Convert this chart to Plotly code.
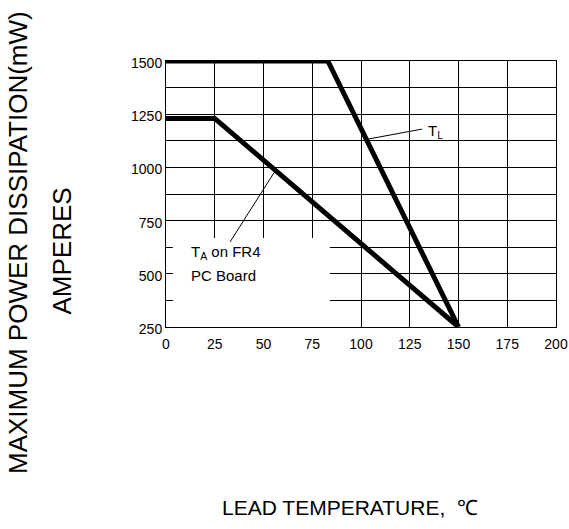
import plotly.graph_objects as go

# ---- data ----
tl_temp = [0, 83, 150]
tl_power = [1500, 1500, 250]
ta_temp = [0, 25, 150]
ta_power = [1230, 1230, 250]

x_ticks = [0, 25, 50, 75, 100, 125, 150, 175, 200]
y_ticks = [250, 500, 750, 1000, 1250, 1500]

# leader lines for the curve labels
tl_leader_x = [103.6, 131.3]
tl_leader_y = [1133, 1180]
ta_leader_x = [55.4, 32.8]
ta_leader_y = [975, 649]

# blank label box inside grid
box_x = [3.5, 84]
box_y = [250, 668]

FONT = "Liberation Sans, Arial, sans-serif"

fig = go.Figure()
fig.add_trace(go.Scatter(x=tl_temp, y=tl_power, mode="lines",
                         line=dict(color="black", width=5), hoverinfo="skip"))
fig.add_trace(go.Scatter(x=ta_temp, y=ta_power, mode="lines",
                         line=dict(color="black", width=5), hoverinfo="skip"))
fig.add_trace(go.Scatter(x=tl_leader_x, y=tl_leader_y, mode="lines",
                         line=dict(color="black", width=1), hoverinfo="skip"))
fig.add_trace(go.Scatter(x=ta_leader_x, y=ta_leader_y, mode="lines",
                         line=dict(color="black", width=1), hoverinfo="skip"))

fig.add_shape(type="rect", xref="x", yref="y", x0=box_x[0], x1=box_x[1],
              y0=box_y[0], y1=box_y[1], fillcolor="white",
              line=dict(width=0), layer="between")

fig.add_annotation(x=133.3, y=1171, xref="x", yref="y", text="T<sub>L</sub>",
                   showarrow=False, xanchor="left", yanchor="middle",
                   font=dict(family=FONT, size=15, color="black"))
fig.add_annotation(x=11.8, y=598, xref="x", yref="y", text="T<sub>A</sub> on FR4",
                   showarrow=False, xanchor="left", yanchor="middle",
                   font=dict(family=FONT, size=15, color="black"))
fig.add_annotation(x=11.8, y=490, xref="x", yref="y", text="PC Board",
                   showarrow=False, xanchor="left", yanchor="middle",
                   font=dict(family=FONT, size=15, color="black"))

fig.add_annotation(x=-0.3795, y=0.3195, xref="paper", yref="paper",
                   text="MAXIMUM POWER DISSIPATION(mW)", textangle=-90,
                   showarrow=False, xanchor="center", yanchor="middle",
                   font=dict(family=FONT, size=26, color="black"))
fig.add_annotation(x=-0.2654, y=0.2857, xref="paper", yref="paper",
                   text="AMPERES", textangle=-90,
                   showarrow=False, xanchor="center", yanchor="middle",
                   font=dict(family=FONT, size=26, color="black"))
fig.add_annotation(x=0.4718, y=-0.6767, xref="paper", yref="paper",
                   text="LEAD TEMPERATURE,  ℃",
                   showarrow=False, xanchor="center", yanchor="middle",
                   font=dict(family=FONT, size=21, color="black"))

fig.update_xaxes(range=[0, 200], tickvals=x_ticks, ticktext=[str(v) for v in x_ticks],
                 showgrid=True, gridcolor="black", gridwidth=1,
                 showline=True, linecolor="black", linewidth=1, mirror=True,
                 ticks="", zeroline=False, fixedrange=True, automargin=False,
                 ticklabelstandoff=4,
                 tickfont=dict(family=FONT, size=14, color="black"))
fig.update_yaxes(range=[250, 1500], tickvals=y_ticks, ticktext=[str(v) for v in y_ticks],
                 showgrid=True, gridcolor="black", gridwidth=1,
                 minor=dict(tick0=250, dtick=125, showgrid=True, gridcolor="black", gridwidth=1),
                 showline=True, linecolor="black", linewidth=1, mirror=True,
                 ticks="", zeroline=False, fixedrange=True, automargin=False,
                 ticklabelshift=2,
                 tickfont=dict(family=FONT, size=14, color="black"))

fig.update_layout(width=569, height=529, showlegend=False,
                  margin=dict(l=166, r=13, t=61, b=202, pad=0),
                  plot_bgcolor="white", paper_bgcolor="white")

fig.write_html("out.html", config={"displayModeBar": False},
               post_script="document.body.style.margin='0px';document.body.style.overflow='hidden';")
